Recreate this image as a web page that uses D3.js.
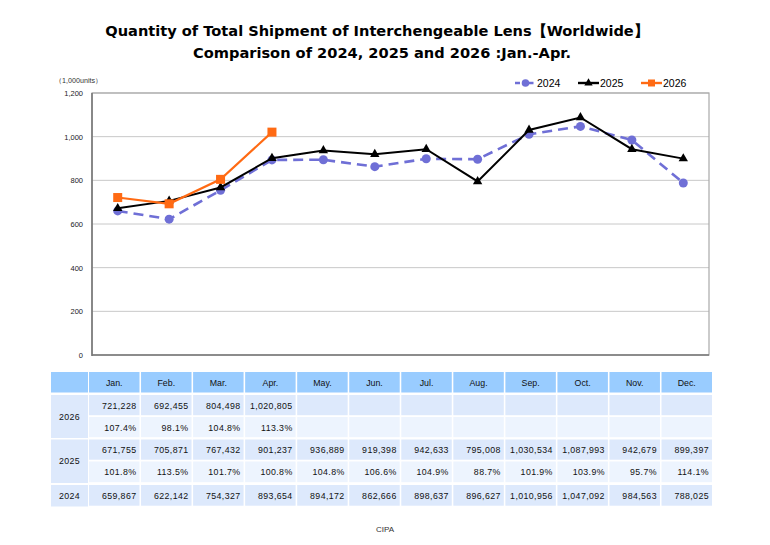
<html>
  <head>
    <title>Interchangeable Lens Shipment</title>
    <meta charset="utf-8" />
    <script src="https://cdnjs.cloudflare.com/ajax/libs/d3/7.8.5/d3.min.js"></script>
    <style>
      body { margin: 0; background: #fff; }
      svg { font-family: "Liberation Sans", Arial, sans-serif; }
    </style>
  </head>
  <body>
    <svg width="770" height="545"></svg>
  </body>

  <script>
    const months = ["Jan.", "Feb.", "Mar.", "Apr.", "May.", "Jun.", "Jul.", "Aug.", "Sep.", "Oct.", "Nov.", "Dec."];
    const years = ["2024", "2025", "2026"];
    const units2024 = [659867, 622142, 754327, 893654, 894172, 862666, 898637, 896627, 1010956, 1047092, 984563, 788025];
    const units2025 = [671755, 705871, 767432, 901237, 936889, 919398, 942633, 795008, 1030534, 1087993, 942679, 899397];
    const units2026 = [721228, 692455, 804498, 1020805];
    const pct2025 = ["101.8%", "113.5%", "101.7%", "100.8%", "104.8%", "106.6%", "104.9%", "88.7%", "101.9%", "103.9%", "95.7%", "114.1%"];
    const pct2026 = ["107.4%", "98.1%", "104.8%", "113.3%"];
    const yTicks = [0, 200, 400, 600, 800, 1000, 1200];

    const blue = "#6f6fd6", black = "#000000", orange = "#ff6a13";
    const svg = d3.select("svg");

    // title
    svg.append("text").attr("x", 377).attr("y", 36).attr("text-anchor", "middle")
      .attr("font-size", 14.6).attr("font-weight", "bold").attr("font-family", "DejaVu Sans, sans-serif")
      .text("Quantity of Total Shipment of Interchengeable Lens【Worldwide】");
    svg.append("text").attr("x", 382).attr("y", 58).attr("text-anchor", "middle")
      .attr("font-size", 14.6).attr("font-weight", "bold").attr("font-family", "DejaVu Sans, sans-serif")
      .text("Comparison of 2024, 2025 and 2026 :Jan.-Apr.");

    // plot area
    const pLeft = 92, pRight = 709, pTop = 93, pBottom = 355;
    const x = d3.scalePoint().domain(months).range([pLeft, pRight]).padding(0.5);
    const y = d3.scaleLinear().domain([0, 1200]).range([pBottom, pTop]);

    const yAxis = d3.axisLeft(y).tickValues(yTicks).tickSize(0).tickPadding(9)
      .tickFormat(d3.format(","));
    const yG = svg.append("g").attr("transform", `translate(${pLeft},0)`).call(yAxis);
    yG.select(".domain").remove();
    yG.selectAll("text").attr("font-size", 7.5).attr("fill", "#222").attr("font-family", "Liberation Sans, sans-serif");

    svg.append("g").selectAll("line").data(yTicks.filter((d) => d > 0)).join("line")
      .attr("x1", pLeft).attr("x2", pRight)
      .attr("y1", (d) => y(d)).attr("y2", (d) => y(d))
      .attr("stroke", "#c8c8c8").attr("stroke-width", 1);
    svg.append("rect").attr("x", pLeft).attr("y", pTop).attr("width", pRight - pLeft).attr("height", pBottom - pTop)
      .attr("fill", "none").attr("stroke", "#a8a8a8").attr("stroke-width", 1.2);
    svg.append("line").attr("x1", pLeft).attr("x2", pLeft).attr("y1", pTop).attr("y2", pBottom + 1)
      .attr("stroke", "#777").attr("stroke-width", 1.6);
    svg.append("line").attr("x1", pLeft).attr("x2", pRight).attr("y1", pBottom).attr("y2", pBottom)
      .attr("stroke", "#777").attr("stroke-width", 1.6);

    svg.append("text").attr("x", 55).attr("y", 83).attr("font-size", 7.2).attr("fill", "#333")
      .text("（1,000units）");

    const line = d3.line().x((d, i) => x(months[i])).y((d) => y(d / 1000));

    // 2024
    svg.append("path").attr("d", line(units2024)).attr("fill", "none")
      .attr("stroke", blue).attr("stroke-width", 2.6).attr("stroke-dasharray", "10,6");
    svg.append("g").selectAll("circle").data(units2024).join("circle")
      .attr("cx", (d, i) => x(months[i])).attr("cy", (d) => y(d / 1000)).attr("r", 4.5).attr("fill", blue);

    // 2025
    const tri = d3.symbol().type(d3.symbolTriangle).size(38);
    svg.append("path").attr("d", line(units2025)).attr("fill", "none")
      .attr("stroke", black).attr("stroke-width", 2);
    svg.append("g").selectAll("path").data(units2025).join("path")
      .attr("d", tri).attr("fill", black)
      .attr("transform", (d, i) => `translate(${x(months[i])},${y(d / 1000)})`);

    // 2026
    svg.append("path").attr("d", line(units2026)).attr("fill", "none")
      .attr("stroke", orange).attr("stroke-width", 2.2);
    svg.append("g").selectAll("rect").data(units2026).join("rect")
      .attr("x", (d, i) => x(months[i]) - 4.5).attr("y", (d) => y(d / 1000) - 4.5)
      .attr("width", 9).attr("height", 9).attr("fill", orange);

    // legend
    const legend = [
      { name: "2024", color: blue, x: 515 },
      { name: "2025", color: black, x: 578 },
      { name: "2026", color: orange, x: 641 },
    ];
    const lg = svg.append("g").selectAll("g").data(legend).join("g")
      .attr("transform", (d) => `translate(${d.x},83)`);
    lg.append("line").attr("x1", 0).attr("x2", 21).attr("y1", 0).attr("y2", 0)
      .attr("stroke", (d) => d.color).attr("stroke-width", 2.4)
      .attr("stroke-dasharray", (d) => (d.name === "2024" ? "5,2.5,6,0" : null));
    lg.each(function (d) {
      const g = d3.select(this);
      if (d.name === "2024") g.append("circle").attr("cx", 10.5).attr("r", 3.8).attr("fill", d.color);
      else if (d.name === "2025") g.append("path").attr("d", d3.symbol().type(d3.symbolTriangle).size(30)).attr("transform", "translate(10.5,0)");
      else g.append("rect").attr("x", 7).attr("y", -3.5).attr("width", 7).attr("height", 7).attr("fill", d.color);
    });
    lg.append("text").attr("x", 22).attr("y", 4).attr("font-size", 10.5).text((d) => d.name);

    // table
    const headerFill = "#99ccff", valFill = "#dde9fc", pctFill = "#edf4fe";
    const col = d3.scaleBand().domain(months).range([89, 712]).paddingInner(0.03);
    const firstX = 51, firstW = 37;
    const fmt = d3.format(",");
    const rows = [
      { key: "head", y: 372, h: 20.5 },
      { key: "2026v", y: 395, h: 21, fill: valFill, vals: units2026.map(fmt) },
      { key: "2026p", y: 417, h: 21, fill: pctFill, vals: pct2026 },
      { key: "2025v", y: 439.5, h: 21, fill: valFill, vals: units2025.map(fmt) },
      { key: "2025p", y: 461.5, h: 21.5, fill: pctFill, vals: pct2025 },
      { key: "2024v", y: 485, h: 21.5, fill: valFill, vals: units2024.map(fmt) },
    ];
    const tbl = svg.append("g").attr("font-size", 8.8).attr("fill", "#111");

    // header
    tbl.append("rect").attr("x", firstX).attr("y", rows[0].y).attr("width", firstW).attr("height", rows[0].h).attr("fill", headerFill);
    tbl.append("g").selectAll("rect").data(months).join("rect")
      .attr("x", (d) => col(d)).attr("y", rows[0].y).attr("width", col.bandwidth()).attr("height", rows[0].h).attr("fill", headerFill);
    tbl.append("g").selectAll("text").data(months).join("text")
      .attr("x", (d) => col(d) + col.bandwidth() / 2).attr("y", rows[0].y + 13.5)
      .attr("text-anchor", "middle").text((d) => d);

    // year labels
    const yearCells = [
      { name: "2026", y: 395, h: 43 },
      { name: "2025", y: 439.5, h: 43.5 },
      { name: "2024", y: 485, h: 21.5 },
    ];
    tbl.append("g").selectAll("rect").data(yearCells).join("rect")
      .attr("x", firstX).attr("y", (d) => d.y).attr("width", firstW).attr("height", (d) => d.h).attr("fill", valFill);
    tbl.append("g").selectAll("text").data(yearCells).join("text")
      .attr("x", firstX + firstW / 2).attr("y", (d) => d.y + d.h / 2 + 3)
      .attr("text-anchor", "middle").attr("letter-spacing", 0.4).text((d) => d.name);

    rows.slice(1).forEach((r) => {
      tbl.append("g").selectAll("rect").data(months).join("rect")
        .attr("x", (d) => col(d)).attr("y", r.y).attr("width", col.bandwidth()).attr("height", r.h - 0.8).attr("fill", r.fill);
      tbl.append("g").selectAll("text").data(r.vals).join("text")
        .attr("x", (d, i) => col(months[i]) + col.bandwidth() - 3).attr("y", r.y + r.h / 2 + 3)
        .attr("text-anchor", "end").attr("letter-spacing", 0.4).text((d) => d);
    });

    svg.append("text").attr("x", 385).attr("y", 532).attr("text-anchor", "middle")
      .attr("font-size", 8).attr("fill", "#333").text("CIPA");
  </script>
</html>
